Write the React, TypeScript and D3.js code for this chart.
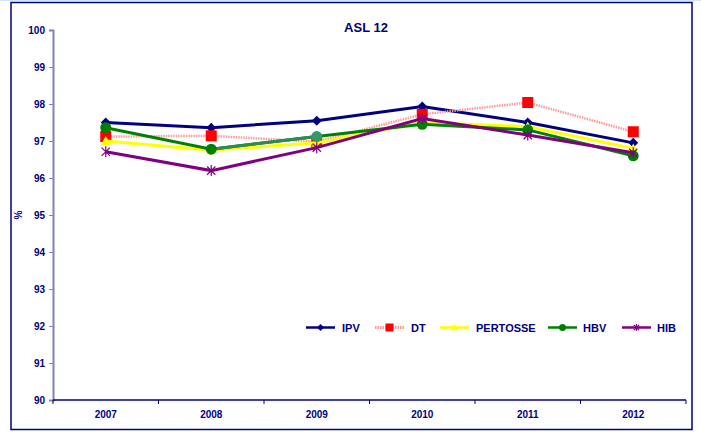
import { useEffect, useRef } from 'react';
import * as d3 from 'd3';

// chart data
const years = ['2007', '2008', '2009', '2010', '2011', '2012'];
const ipv = [97.5, 97.36, 97.55, 97.93, 97.5, 96.95];
const dt = [97.12, 97.14, 96.98, 97.72, 98.04, 97.25];
const pertosse = [97.0, 96.75, 96.95, 97.5, 97.39, 96.8];
const hbv = [97.36, 96.78, 97.12, 97.45, 97.3, 96.6];
const hib = [96.71, 96.2, 96.82, 97.61, 97.16, 96.68];
const yTicks = [90, 91, 92, 93, 94, 95, 96, 97, 98, 99, 100];

type Marker = 'diamond' | 'square' | 'triangle' | 'circle' | 'star';

interface Series {
  name: string;
  values: number[];
  color: string;
  markerColor: string;
  marker: Marker;
  dash?: string;
  width: number;
}

const series: Series[] = [
  { name: 'IPV', values: ipv, color: '#000080', markerColor: '#000080', marker: 'diamond', width: 3 },
  { name: 'DT', values: dt, color: '#ff9999', markerColor: '#ff0000', marker: 'square', dash: '1.5,1', width: 2.5 },
  { name: 'PERTOSSE', values: pertosse, color: '#ffff00', markerColor: '#ffff00', marker: 'triangle', width: 3 },
  { name: 'HBV', values: hbv, color: '#008000', markerColor: '#008000', marker: 'circle', width: 3 },
  { name: 'HIB', values: hib, color: '#800080', markerColor: '#800080', marker: 'star', width: 3 },
];

const FONT = '"Liberation Sans", Arial, sans-serif';
const NAVY = '#000080';

function drawMarker(
  g: d3.Selection<SVGGElement, unknown, null, undefined>,
  kind: Marker,
  x: number,
  y: number,
  size: number,
  color: string
) {
  const h = size / 2;
  if (kind === 'diamond') {
    g.append('path')
      .attr('d', `M${x},${y - h}L${x + h},${y}L${x},${y + h}L${x - h},${y}Z`)
      .attr('fill', color);
  } else if (kind === 'square') {
    g.append('rect')
      .attr('x', x - h).attr('y', y - h)
      .attr('width', size).attr('height', size)
      .attr('fill', color);
  } else if (kind === 'triangle') {
    g.append('path')
      .attr('d', `M${x},${y - h}L${x + h},${y + h * 0.8}L${x - h},${y + h * 0.8}Z`)
      .attr('fill', color);
  } else if (kind === 'circle') {
    g.append('circle').attr('cx', x).attr('cy', y).attr('r', h).attr('fill', color);
  } else {
    const d = h * 0.75;
    g.append('path')
      .attr('d', `M${x},${y - h}L${x},${y + h}M${x - d},${y - d}L${x + d},${y + d}M${x - d},${y + d}L${x + d},${y - d}`)
      .attr('stroke', color)
      .attr('stroke-width', 1.2)
      .attr('fill', 'none');
  }
}

export default function App() {
  const svgRef = useRef<SVGSVGElement>(null);

  useEffect(() => {
    if (!svgRef.current) return;
    const svg = d3.select(svgRef.current);
    svg.selectAll('*').remove();

    const left = 53, right = 686, top = 30, bottom = 400;

    const x = d3.scaleBand<string>().domain(years).range([left, right]).padding(0);
    const y = d3.scaleLinear().domain([90, 100]).range([bottom, top]);
    const cx = (yr: string) => (x(yr) || 0) + x.bandwidth() / 2;

    // background + frame
    svg.append('rect').attr('width', 701).attr('height', 435).attr('fill', '#fff');
    svg.append('rect').attr('x', 0).attr('y', 0).attr('width', 701).attr('height', 1).attr('fill', '#cfe6f3');
    svg.append('rect')
      .attr('x', 11).attr('y', 2.5).attr('width', 681).attr('height', 427)
      .attr('fill', 'none').attr('stroke', NAVY).attr('stroke-width', 1.5);

    // title
    svg.append('text')
      .attr('x', 366).attr('y', 32)
      .attr('text-anchor', 'middle')
      .style('font-family', FONT).style('font-weight', 'bold').style('font-size', '13px')
      .attr('fill', NAVY)
      .text('ASL 12');

    // y axis
    const yAxis = svg.append('g')
      .attr('transform', `translate(${left},0)`)
      .call(d3.axisLeft(y).tickValues(yTicks).tickSize(4).tickPadding(4).tickFormat(d3.format('d')));
    yAxis.select('.domain').attr('stroke', '#8080c0').attr('stroke-width', 2);
    yAxis.selectAll('.tick line').attr('stroke', '#8080c0');
    yAxis.selectAll('text')
      .style('font-family', FONT).style('font-weight', 'bold').style('font-size', '10px')
      .attr('fill', NAVY);

    // x axis with ticks at band edges
    const xg = svg.append('g').attr('transform', `translate(0,${bottom})`);
    xg.append('line').attr('x1', left).attr('x2', right).attr('stroke', NAVY).attr('stroke-width', 1.5);
    [...years.map(yr => x(yr) || 0), right].forEach(t => {
      xg.append('line').attr('x1', t).attr('x2', t).attr('y1', 0).attr('y2', 4).attr('stroke', NAVY);
    });
    years.forEach(yr => {
      xg.append('text')
        .attr('x', cx(yr)).attr('y', 18)
        .attr('text-anchor', 'middle')
        .style('font-family', FONT).style('font-weight', 'bold').style('font-size', '10px')
        .attr('fill', NAVY)
        .text(yr);
    });

    // y axis label
    svg.append('text')
      .attr('transform', `translate(22,215) rotate(-90)`)
      .attr('text-anchor', 'middle')
      .style('font-family', FONT).style('font-weight', 'bold').style('font-size', '10px')
      .attr('fill', NAVY)
      .text('%');

    // series
    const line = d3.line<number>().x((_, i) => cx(years[i])).y(d => y(d));
    const plot = svg.append('g');
    series.forEach(s => {
      plot.append('path')
        .attr('d', line(s.values))
        .attr('fill', 'none')
        .attr('stroke', s.color)
        .attr('stroke-width', s.width)
        .attr('stroke-dasharray', s.dash || null);
      if (s.name === 'HBV') {
        // point 2009 formatted in a lighter green in the source
        plot.append('path')
          .attr('d', line.x((_, i) => cx(years[i + 1]))(s.values.slice(1, 3)))
          .attr('fill', 'none').attr('stroke', '#2e8b57').attr('stroke-width', s.width);
        line.x((_, i) => cx(years[i]));
      }
      const mg = plot.append('g');
      s.values.forEach((v, i) => {
        const col = s.name === 'HBV' && i === 2 ? '#339966' : s.markerColor;
        const size = s.marker === 'square' ? 11 : s.marker === 'circle' ? 11 : s.marker === 'star' ? 11 : 10;
        drawMarker(mg, s.marker, cx(years[i]), y(v), size, col);
      });
    });

    // legend
    const legendItems = [
      { lx: 306, tx: 342 },
      { lx: 375, tx: 411 },
      { lx: 440, tx: 476 },
      { lx: 548, tx: 583 },
      { lx: 622, tx: 657 },
    ];
    const ly = 327.5;
    const lg = svg.append('g');
    series.forEach((s, i) => {
      const { lx, tx } = legendItems[i];
      lg.append('line')
        .attr('x1', lx).attr('x2', lx + 29).attr('y1', ly).attr('y2', ly)
        .attr('stroke', s.color).attr('stroke-width', s.name === 'DT' ? 3 : 2.5)
        .attr('stroke-dasharray', s.dash || null);
      drawMarker(lg, s.marker, lx + 14.5, ly, s.marker === 'square' ? 8 : 7, s.markerColor);
      lg.append('text')
        .attr('x', tx).attr('y', ly + 4)
        .style('font-family', FONT).style('font-weight', 'bold').style('font-size', '11px')
        .attr('fill', NAVY)
        .text(s.name);
    });
  }, []);

  return (
    <svg
      ref={svgRef}
      width={701}
      height={435}
      style={{ position: 'absolute', left: 0, top: 0 }}
    />
  );
}
